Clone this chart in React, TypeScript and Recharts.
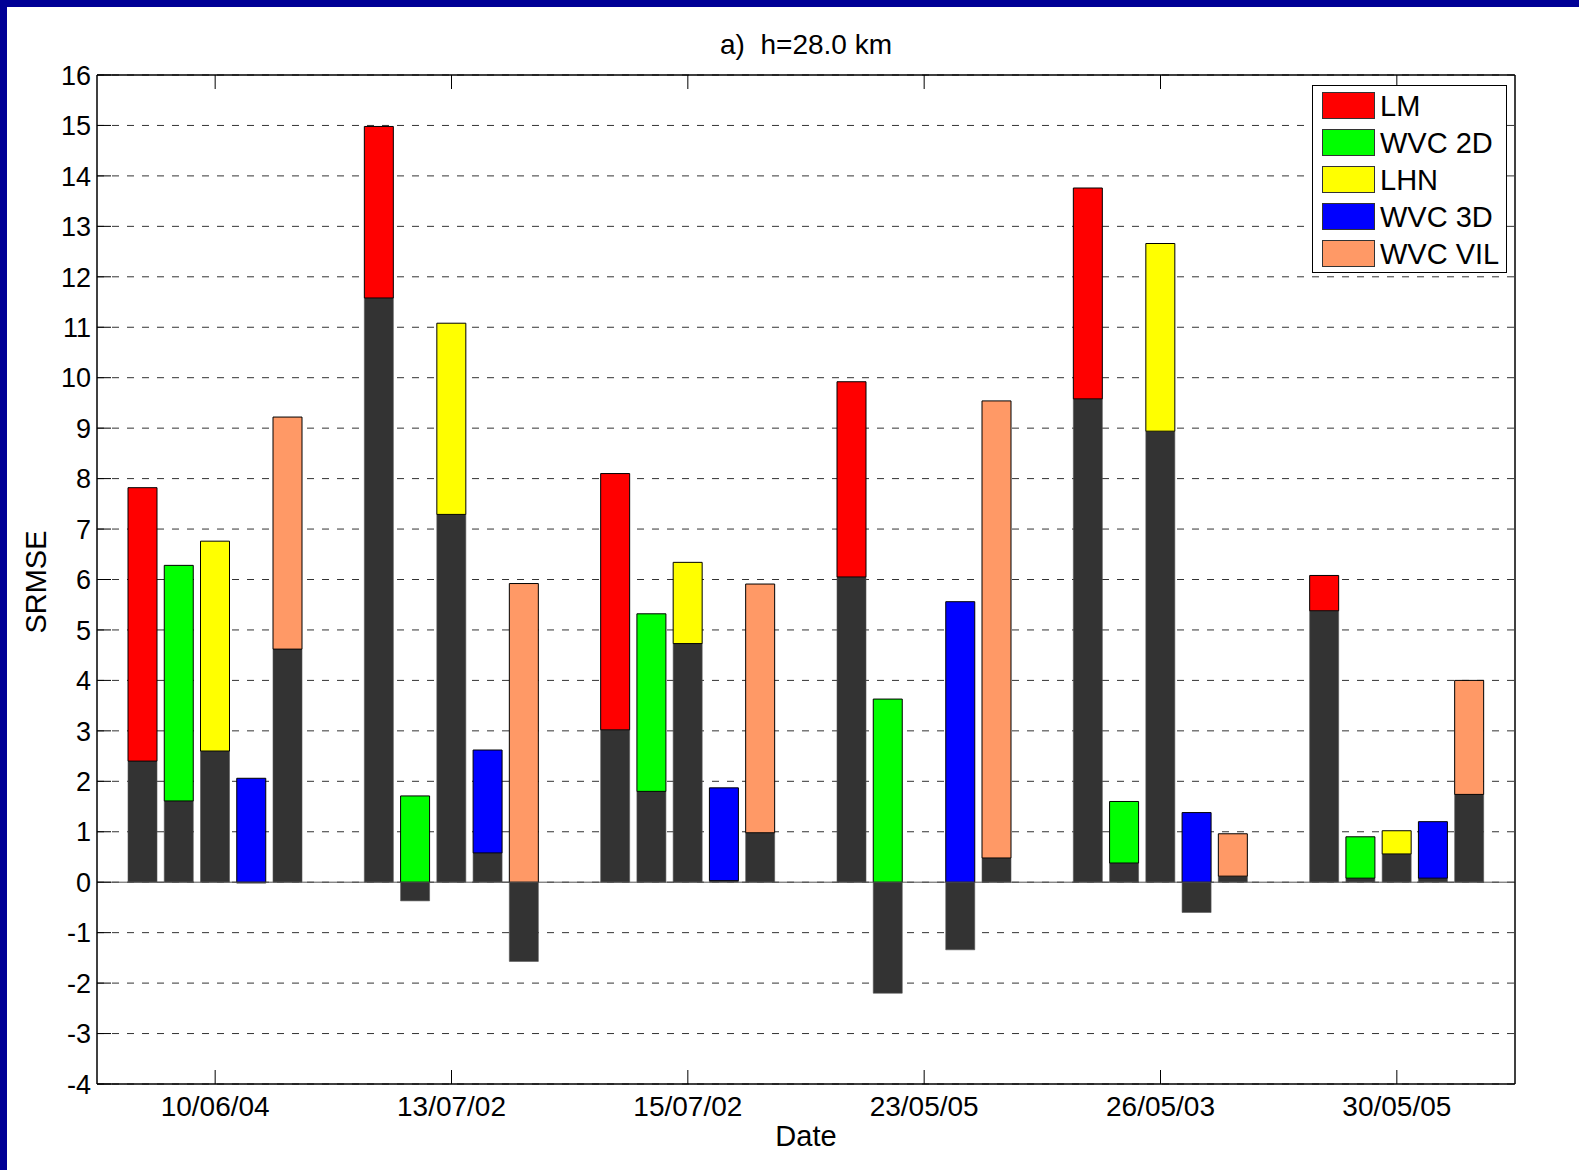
import { BarChart, Bar, XAxis, YAxis, CartesianGrid, ReferenceLine } from "recharts";

const dates = ["10/06/04", "13/07/02", "15/07/02", "23/05/05", "26/05/03", "30/05/05"];
const methods = ["LM", "WVC 2D", "LHN", "WVC 3D", "WVC VIL"];
const colors = ["#ff0000", "#00ff00", "#ffff00", "#0000ff", "#ff9966"];

// dark part of each bar (can be negative) and top of the coloured part
const lmBase = [2.4, 11.58, 3.02, 6.05, 9.58, 5.38];
const lmTop = [7.82, 14.98, 8.1, 9.92, 13.76, 6.08];
const wvc2dBase = [1.61, -0.37, 1.8, -2.2, 0.38, 0.08];
const wvc2dTop = [6.28, 1.71, 5.32, 3.63, 1.6, 0.9];
const lhnBase = [2.6, 7.29, 4.73, null, 8.94, 0.56];
const lhnTop = [6.76, 11.08, 6.34, null, 12.66, 1.02];
const wvc3dBase = [-0.02, 0.58, 0.03, -1.34, -0.6, 0.08];
const wvc3dTop = [2.06, 2.62, 1.87, 5.56, 1.38, 1.2];
const vilBase = [4.62, -1.57, 0.98, 0.48, 0.12, 1.74];
const vilTop = [9.22, 5.92, 5.91, 9.54, 0.96, 4.0];

const bases = [lmBase, wvc2dBase, lhnBase, wvc3dBase, vilBase];
const tops = [lmTop, wvc2dTop, lhnTop, wvc3dTop, vilTop];

const yTicks = [-4, -3, -2, -1, 0, 1, 2, 3, 4, 5, 6, 7, 8, 9, 10, 11, 12, 13, 14, 15, 16];

const font = "'Liberation Sans', Arial, Helvetica, sans-serif";
const dark = "#333333";

const data = dates.map((date, i) => {
  const row: any = { date };
  methods.forEach((_, m) => {
    const b = bases[m][i];
    const t = tops[m][i];
    if (b == null || t == null) {
      row[`b${m}`] = null;
      row[`c${m}`] = null;
    } else {
      row[`b${m}`] = b;
      row[`c${m}`] = t - Math.max(b, 0);
    }
  });
  return row;
});

const LeftTick = ({ x, y, payload }: any) => (
  <g>
    <line x1={x} x2={x + 14} y1={y} y2={y} stroke="#000" />
    <text x={x - 6} y={y} dy="0.36em" textAnchor="end" fontSize={27} fontFamily={font} fill="#000">
      {payload.value}
    </text>
  </g>
);

const RightTick = ({ x, y }: any) => <line x1={x - 14} x2={x} y1={y} y2={y} stroke="#000" />;

const BottomTick = ({ x, y, payload }: any) => (
  <g>
    <line x1={x} x2={x} y1={y} y2={y - 14} stroke="#000" />
    <text x={x} y={y + 12} dy="0.71em" textAnchor="middle" fontSize={28} fontFamily={font} fill="#000">
      {payload.value}
    </text>
  </g>
);

const TopTick = ({ x, y }: any) => <line x1={x} x2={x} y1={y} y2={y + 14} stroke="#000" />;

export default function App() {
  return (
    <div
      style={{
        position: "absolute",
        left: 0,
        top: 0,
        width: 1579,
        height: 1170,
        background: "#fff",
        fontFamily: font,
        overflow: "hidden",
      }}
    >
      <BarChart
        width={1579}
        height={1170}
        data={data}
        margin={{ top: 0, right: 0, bottom: 0, left: 0 }}
        stackOffset="sign"
        barSize={29}
        barGap={7.25}
      >
        <CartesianGrid
          xAxisId="bottom"
          yAxisId="l"
          vertical={false}
          stroke="#333"
          strokeDasharray="7 8"
        />
        <XAxis
          xAxisId="bottom"
          dataKey="date"
          height={86}
          tickSize={0}
          tickMargin={0}
          tickLine={false}
          interval={0}
          axisLine={{ stroke: "#000", strokeWidth: 1.5 }}
          tick={<BottomTick />}
        />
        <XAxis
          xAxisId="top"
          orientation="top"
          dataKey="date"
          height={75}
          tickSize={0}
          tickMargin={0}
          tickLine={false}
          interval={0}
          axisLine={{ stroke: "#000", strokeWidth: 1.5 }}
          tick={<TopTick />}
        />
        <YAxis
          yAxisId="l"
          width={97}
          type="number"
          domain={[-4, 16]}
          ticks={yTicks}
          interval={0}
          tickSize={0}
          tickMargin={0}
          tickLine={false}
          axisLine={{ stroke: "#000", strokeWidth: 1.5 }}
          tick={<LeftTick />}
        />
        <YAxis
          yAxisId="r"
          orientation="right"
          width={64}
          type="number"
          domain={[-4, 16]}
          ticks={yTicks}
          interval={0}
          tickSize={0}
          tickMargin={0}
          tickLine={false}
          axisLine={{ stroke: "#000", strokeWidth: 1.5 }}
          tick={<RightTick />}
        />
        <ReferenceLine xAxisId="bottom" yAxisId="l" y={0} stroke="#555" strokeWidth={1} />
        {methods.flatMap((name, m) => [
          <Bar
            key={`b${m}`}
            xAxisId="bottom"
            yAxisId="l"
            dataKey={`b${m}`}
            stackId={`s${m}`}
            fill={dark}
            stroke="#555"
            strokeWidth={0.6}
            isAnimationActive={false}
          />,
          <Bar
            key={`c${m}`}
            name={name}
            xAxisId="bottom"
            yAxisId="l"
            dataKey={`c${m}`}
            stackId={`s${m}`}
            fill={colors[m]}
            stroke="#000"
            strokeWidth={1}
            isAnimationActive={false}
          />,
        ])}
      </BarChart>

      {/* navy frame of the slide */}
      <div style={{ position: "absolute", left: 0, top: 0, width: 1579, height: 7, background: "#000096" }} />
      <div style={{ position: "absolute", left: 0, top: 0, width: 7, height: 1170, background: "#000096" }} />

      <div
        style={{
          position: "absolute",
          left: 97,
          width: 1418,
          top: 31,
          textAlign: "center",
          fontSize: 28,
          lineHeight: "28px",
          whiteSpace: "pre",
        }}
      >
        {"a)  h=28.0 km"}
      </div>
      <div
        style={{
          position: "absolute",
          left: 97,
          width: 1418,
          top: 1122,
          textAlign: "center",
          fontSize: 29,
          lineHeight: "29px",
        }}
      >
        Date
      </div>
      <div
        style={{
          position: "absolute",
          left: 36,
          top: 582,
          transform: "translate(-50%, -50%) rotate(-90deg)",
          fontSize: 29,
          lineHeight: "29px",
          whiteSpace: "nowrap",
        }}
      >
        SRMSE
      </div>

      <div
        style={{
          position: "absolute",
          left: 1312,
          top: 85,
          width: 195,
          height: 188,
          boxSizing: "border-box",
          border: "1.5px solid #000",
          background: "#fff",
        }}
      >
        {methods.map((name, m) => (
          <div key={name} style={{ position: "absolute", left: 0, top: 6 + 37 * m, height: 27, width: 190 }}>
            <div
              style={{
                position: "absolute",
                left: 9,
                top: 0,
                width: 53,
                height: 27,
                boxSizing: "border-box",
                border: "1px solid #333",
                background: colors[m],
              }}
            />
            <div
              style={{
                position: "absolute",
                left: 67,
                top: 0,
                fontSize: 29,
                lineHeight: "29px",
                whiteSpace: "nowrap",
              }}
            >
              {name}
            </div>
          </div>
        ))}
      </div>
    </div>
  );
}
